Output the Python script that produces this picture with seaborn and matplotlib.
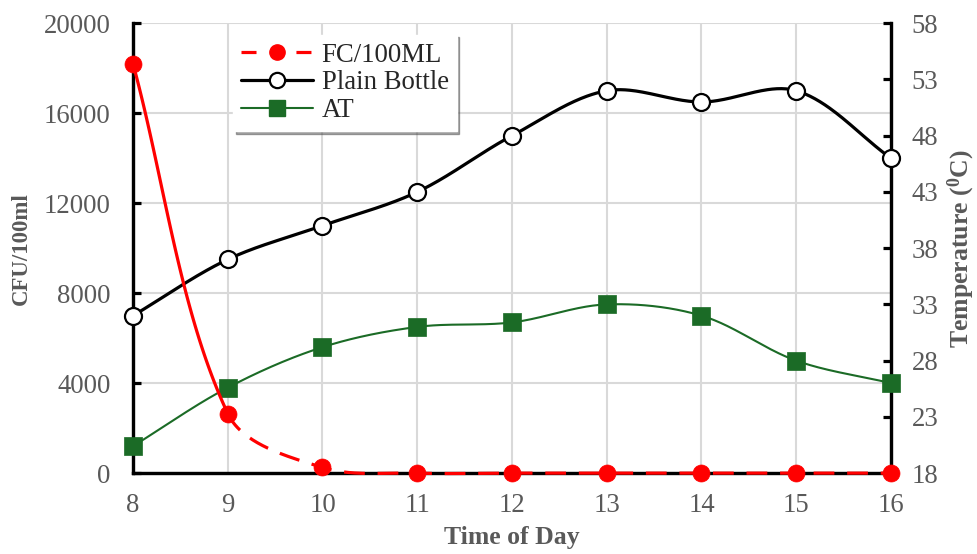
import numpy as np
import pandas as pd
import matplotlib
matplotlib.use("Agg")
import matplotlib.pyplot as plt
import seaborn as sns
from matplotlib.lines import Line2D

# ---- data ----
hours = [8, 9, 10, 11, 12, 13, 14, 15, 16]
fc_100ml = [18200, 2650, 250, 0, 0, 0, 0, 0, 0]
plain_bottle = [32, 37, 40, 43, 48, 52, 51, 52, 46]
at_temp = [20.4, 25.6, 29.2, 31, 31.4, 33, 32, 28, 26]
left_ticks = [0, 4000, 8000, 12000, 16000, 20000]
right_ticks = [18, 23, 28, 33, 38, 43, 48, 53, 58]

sns.set_theme(style="white")
plt.rcParams['font.family'] = ['Liberation Serif', 'DejaVu Serif']
plt.rcParams['mathtext.fontset'] = 'custom'
plt.rcParams['mathtext.rm'] = 'Liberation Serif'
plt.rcParams['mathtext.bf'] = 'Liberation Serif:bold'

FIG_W, FIG_H = 9.78, 5.54
AX_RECT = [0.136, 0.146, 0.775, 0.812]
XLIM = (8, 16)
YLIM_T = (18, 58)
YLIM_C = (0, 20000)


def smooth(x, y, ylim, n=60):
    """Excel-style smoothed line (Bezier, control points scaled by segment
    lengths measured on screen)."""
    kx = FIG_W * 100 * AX_RECT[2] / (XLIM[1] - XLIM[0])
    ky = FIG_H * 100 * AX_RECT[3] / (ylim[1] - ylim[0])
    P = np.column_stack([np.asarray(x, float) * kx, np.asarray(y, float) * ky])
    k = len(P)
    d = np.linalg.norm(np.diff(P, axis=0), axis=1)
    out_c, in_c = [], []
    for i in range(k):
        prev = P[i - 1] if i > 0 else P[i]
        nxt = P[i + 1] if i < k - 1 else P[i]
        dprev = d[i - 1] if i > 0 else 0.0
        dnext = d[i] if i < k - 1 else 0.0
        T = nxt - prev
        tot = dprev + dnext
        out_c.append(P[i] + T * dnext / tot / 3)
        in_c.append(P[i] - T * dprev / tot / 3)
    pts = []
    for i in range(k - 1):
        t = np.linspace(0, 1, n, endpoint=(i == k - 2))[:, None]
        b = ((1 - t) ** 3 * P[i] + 3 * (1 - t) ** 2 * t * out_c[i]
             + 3 * (1 - t) * t ** 2 * in_c[i + 1] + t ** 3 * P[i + 1])
        pts.append(b)
    pts = np.vstack(pts)
    return pts[:, 0] / kx, pts[:, 1] / ky


fig = plt.figure(figsize=(FIG_W, FIG_H), dpi=100)
ax = fig.add_axes(AX_RECT)
ax2 = ax.twinx()

grey = '#595959'
red = '#FF0000'
green = '#1B6B26'
FS = 19.3

ax.set_xlim(*XLIM)
ax.set_ylim(*YLIM_C)
ax.set_yticks(left_ticks)
ax.set_xticks(hours)
ax.grid(True, color='#D9D9D9', linewidth=1.5)
ax.set_axisbelow(True)

ax2.set_ylim(*YLIM_T)
ax2.set_yticks(right_ticks)

# Plain bottle and AT on the temperature axis
for vals, col, lw in [(plain_bottle, 'black', 2.3), (at_temp, green, 1.5)]:
    sx, sy = smooth(hours, vals, YLIM_T)
    sns.lineplot(x=sx, y=sy, ax=ax2, color=col, linewidth=lw, sort=False,
                 estimator=None, legend=False, zorder=3)
sns.scatterplot(x=hours, y=plain_bottle, ax=ax2, marker='o', s=150,
                facecolor='white', edgecolor='black', linewidth=1.6,
                zorder=5, clip_on=False, legend=False)
sns.scatterplot(x=hours, y=at_temp, ax=ax2, marker='s', s=150,
                color=green, edgecolor=green, linewidth=0.5,
                zorder=5, clip_on=False, legend=False)


def to_t(v):
    return YLIM_T[0] + np.asarray(v, float) / YLIM_C[1] * (YLIM_T[1] - YLIM_T[0])


# FC on the CFU axis, converted to draw on the top axes
sx, sy = smooth(hours, fc_100ml, YLIM_C)
fc_df = pd.DataFrame({'x': sx, 'y': sy})
first = fc_df[fc_df.x <= 9.0]
rest = fc_df[fc_df.x >= 9.0]

sns.lineplot(x=first.x, y=to_t(first.y), ax=ax2, color=red, linewidth=2.3,
             sort=False, estimator=None, legend=False, zorder=6)
ln = sns.lineplot(x=rest.x, y=to_t(rest.y), ax=ax2, color=red, linewidth=2.3,
                  sort=False, estimator=None, legend=False, zorder=6)
ln.lines[-1].set_dashes([6.5, 4])
ln.lines[-1].set_clip_on(False)
sns.scatterplot(x=hours, y=to_t(fc_100ml), ax=ax2, marker='o', s=150,
                color=red, edgecolor=red, linewidth=0.5, zorder=7,
                clip_on=False, legend=False)

# spines and ticks
for a in (ax, ax2):
    a.spines['top'].set_visible(False)
    for s in ('left', 'right', 'bottom'):
        a.spines[s].set_color('black')
        a.spines[s].set_linewidth(2.3)
ax.tick_params(axis='both', direction='in', length=6, width=2.3,
               color='black', labelcolor=grey, labelsize=FS, pad=16)
ax.tick_params(axis='x', pad=14)
ax2.tick_params(axis='y', direction='in', length=6, width=2.3,
                color='black', labelcolor=grey, labelsize=FS, pad=15)

ax.set_xlabel('Time of Day', fontsize=18.5, fontweight='bold', color=grey,
              labelpad=6)
ax.set_ylabel('CFU/100ml', fontsize=16.5, fontweight='bold', color=grey,
              labelpad=9)
ax2.set_ylabel(r'Temperature ($\mathbf{^0}$C)', fontsize=18.5,
               fontweight='bold', color=grey, labelpad=5)

handles = [
    Line2D([], [], color=red, lw=2.3, dashes=[4.7, 12.5], marker='o',
           markersize=11, markerfacecolor=red, markeredgecolor=red),
    Line2D([], [], color='black', lw=2.3, marker='o', markersize=11,
           markerfacecolor='white', markeredgecolor='black',
           markeredgewidth=1.6),
    Line2D([], [], color=green, lw=1.5, marker='s', markersize=11,
           markerfacecolor=green, markeredgecolor=green),
]
leg = ax2.legend(handles, ['FC/100ML', 'Plain Bottle', 'AT'],
                 loc='upper left', bbox_to_anchor=(0.132, 0.975),
                 fontsize=FS, frameon=True, fancybox=False, shadow=True,
                 framealpha=1, edgecolor='white', handlelength=2.7,
                 borderpad=0.3, labelspacing=0.1, handletextpad=0.3,
                 borderaxespad=0)
leg.set_zorder(10)

fig.savefig('out.png', dpi=100)
